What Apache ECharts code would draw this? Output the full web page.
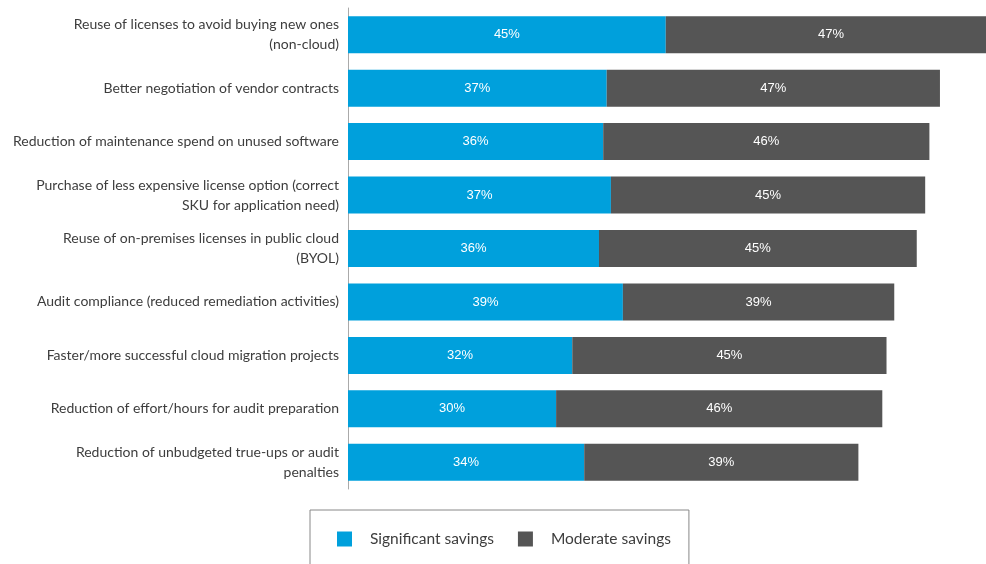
<!DOCTYPE html>
<html><head><meta charset="utf-8">
<script src="https://cdn.jsdelivr.net/npm/echarts@6/dist/echarts.min.js"></script>
<style>html,body{margin:0;padding:0;background:#fff}#c{width:986px;height:564px}</style>
</head><body><div id="c"></div>
<script>
var categories = [
  "Reuse of licenses to avoid buying new ones\n(non-cloud)",
  "Better negotiation of vendor contracts",
  "Reduction of maintenance spend on unused software",
  "Purchase of less expensive license option (correct\nSKU for application need)",
  "Reuse of on-premises licenses in public cloud\n(BYOL)",
  "Audit compliance (reduced remediation activities)",
  "Faster/more successful cloud migration projects",
  "Reduction of effort/hours for audit preparation",
  "Reduction of unbudgeted true-ups or audit\npenalties"
];
var significant = [45.2, 36.8, 36.3, 37.4, 35.7, 39.1, 31.9, 29.6, 33.6];
var moderate = [47.0, 47.4, 46.4, 44.7, 45.2, 38.6, 44.7, 46.4, 39.0];
var seriesNames = ["Significant savings", "Moderate savings"];

var chart = echarts.init(document.getElementById('c'));
var lbl = {show: true, position: 'inside', color: '#fff', fontFamily: 'Liberation Sans, Arial, sans-serif', fontSize: 13,
  formatter: function(p){ return Math.round(p.value) + '%'; }};
chart.setOption({
  animation: false,
  grid: {left: 348, top: 8, height: 481, right: 0, containLabel: false},
  xAxis: {type: 'value', min: 0, max: 90.75, show: false},
  yAxis: {type: 'category', inverse: true, data: categories,
    axisLine: {show: true, lineStyle: {color: '#aaa', width: 1}},
    axisTick: {show: false},
    axisLabel: {margin: 9, color: '#3d3d3d', fontFamily: 'Lato, Noto Sans, sans-serif', fontSize: 14, lineHeight: 20, align: 'right'}},
  legend: {data: seriesNames, left: 310, top: 510, orient: 'horizontal',
    borderColor: '#888', borderWidth: 1, padding: [21, 18, 30, 27],
    itemWidth: 15, itemHeight: 15, itemGap: 24, icon: 'rect',
    textStyle: {color: '#3d3d3d', fontFamily: 'Lato, Noto Sans, sans-serif', fontSize: 15.5, padding: [0, 0, 0, 13]}},
  series: [
    {name: seriesNames[0], type: 'bar', stack: 's', data: significant, barWidth: 37, clip: false,
      itemStyle: {color: '#00a0dc'}, label: lbl},
    {name: seriesNames[1], type: 'bar', stack: 's', data: moderate, barWidth: 37, clip: false,
      itemStyle: {color: '#555555'}, label: lbl}
  ]
});
</script></body></html>
